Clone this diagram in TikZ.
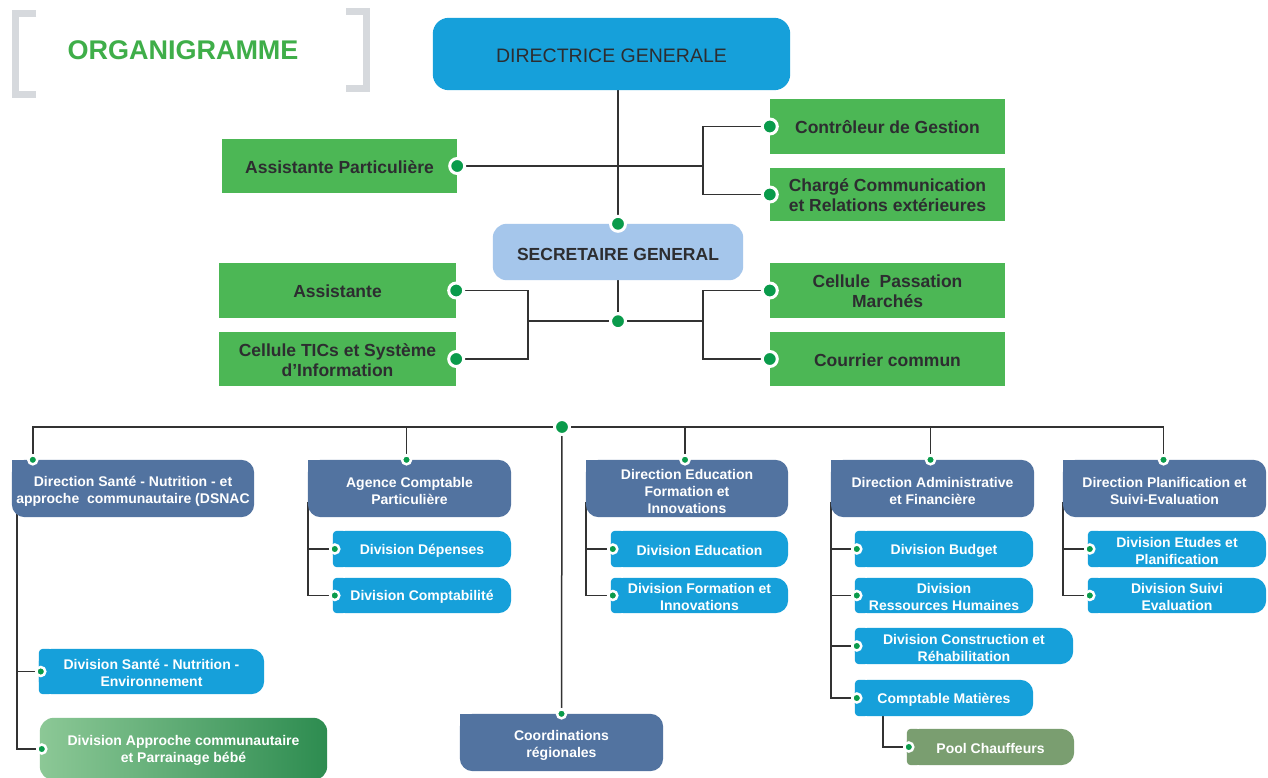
\documentclass[tikz,border=0pt]{standalone}
\usepackage{fontspec}
\setmainfont{Liberation Sans}
\usetikzlibrary{calc}
\pgfdeclarelayer{paper}
\pgfdeclarelayer{lines}
\pgfdeclarelayer{boxes}
\pgfsetlayers{paper,lines,boxes,main}
\definecolor{gfill}{RGB}{76,183,85}
\definecolor{dgblue}{RGB}{22,160,218}
\definecolor{divblue}{RGB}{22,160,218}
\definecolor{dkblue}{RGB}{82,115,160}
\definecolor{dotc}{RGB}{10,155,75}
\definecolor{lnc}{RGB}{50,50,50}
\definecolor{txtc}{RGB}{45,45,48}
\definecolor{titlec}{RGB}{63,174,73}
\definecolor{brk}{RGB}{214,217,221}
\definecolor{poolc}{RGB}{122,158,112}
\definecolor{sgside}{RGB}{165,198,235}
\definecolor{sgmidc}{RGB}{212,227,245}
\definecolor{apl}{RGB}{140,200,150}
\definecolor{apm}{RGB}{72,182,112}
\definecolor{apr}{RGB}{45,140,80}
\newcommand\ftitle{\fontsize{27}{30}\selectfont\bfseries}
\newcommand\fdg{\fontsize{19.5}{22}\selectfont}
\newcommand\fgreen{\fontsize{17.5}{20}\selectfont\bfseries}
\newcommand\fsmall{\fontsize{14}{17}\selectfont\bfseries}
\tikzset{
  ln/.style={draw=lnc, line width=1.5pt},
  sz/.style 2 args={minimum width=#1pt, minimum height=#2pt},
  gbox/.style={font=\fgreen, text=txtc, align=center, inner sep=0pt, text height=14.5pt},
  gtwo/.style={gbox, text height=34.5pt},
  wbox/.style={font=\fsmall, text=white, align=center, inner sep=0pt, text height=13.5pt},
  wtwo/.style={wbox, text height=30.5pt},
  dbox/.style={wbox, text height=33pt},
  dthree/.style={wbox, text height=50pt},
  bdot/.style={circle, fill=dotc, draw=white, line width=3pt, minimum size=15pt, inner sep=0pt},
  sdot/.style={circle, fill=dotc, draw=white, line width=2.5pt, minimum size=9pt, inner sep=0pt},
  bracketline/.style={draw=brk, line width=7pt},
}
\begin{document}
\begin{tikzpicture}[x=1pt,y=-1pt]
\useasboundingbox (0,0) rectangle (1268,778);
\begin{pgfonlayer}{paper}
\fill[white] (0,0) rectangle (1268,778);
\end{pgfonlayer}
% title
\draw[bracketline] (36,14) -- (15,14) -- (15,95) -- (36,95);
\draw[bracketline] (346,12) -- (366,12) -- (366,89) -- (346,89);
\node[font=\ftitle, text=titlec, inner sep=0pt] (title) at (183,50) {ORGANIGRAMME};
% top level
\node[font=\fdg, text=txtc, inner sep=0pt, text height=18pt, sz={357}{72}] (dg) at (611.5,54) {DIRECTRICE GENERALE};
\node[gbox, sz={235}{54}] (ap) at (339.5,166) {Assistante Particulière};
\node[gbox, sz={235}{55}] (cg) at (887.5,126.5) {Contrôleur de Gestion};
\node[gtwo, sz={235}{53}] (cc) at (887.5,194.5) {Chargé Communication\\et Relations extérieures};
\node[gbox, sz={250}{56}, text height=16.8pt] (sg) at (618,252) {SECRETAIRE GENERAL};
\node[gbox, sz={237}{55}] (as) at (337.5,290.5) {Assistante};
\node[gtwo, sz={237}{54}] (tic) at (337.5,359) {Cellule TICs et Système\\d’Information};
\node[gtwo, sz={235}{55}] (cp) at (887.5,290.5) {Cellule\ \ Passation\\Marchés};
\node[gbox, sz={235}{54}] (cm) at (887.5,359) {Courrier commun};
% directions
\node[dbox, sz={242}{57}] (dsnac) at (133,488.5) {Direction Santé - Nutrition - et\\approche\ \ communautaire (DSNAC};
\node[dbox, sz={203}{57}] (agence) at (409.5,488.5) {Agence Comptable\\Particulière};
\node[dthree, sz={202}{57}] (defi) at (687,488.5) {Direction Education\\Formation et\\Innovations};
\node[dbox, sz={203}{57}] (daf) at (932.5,488.5) {Direction Administrative\\et Financière};
\node[dbox, sz={203}{57}] (dpse) at (1164.5,488.5) {Direction Planification et\\Suivi-Evaluation};
\node[dbox, sz={203}{57}] (coord) at (561.5,742.5) {Coordinations\\régionales};
% divisions
\node[wbox, sz={178}{36}] (dep) at (422,549) {Division Dépenses};
\node[wbox, sz={178}{35}] (cpt) at (422,595.5) {Division Comptabilité};
\node[wbox, sz={177}{36}] (edu) at (699.5,549) {Division Education};
\node[wtwo, sz={177}{35}] (dfi) at (699.5,595.5) {Division Formation et\\Innovations};
\node[wbox, sz={178}{36}] (bud) at (944,549) {Division Budget};
\node[wtwo, sz={178}{35}] (rh) at (944,595.5) {Division\\Ressources Humaines};
\node[wtwo, sz={218}{36}] (con) at (964,646) {Division Construction et\\Réhabilitation};
\node[wbox, sz={178}{36}] (mat) at (944,698) {Comptable Matières};
\node[wbox, sz={167}{36}] (pool) at (990.5,747) {Pool Chauffeurs};
\node[wtwo, sz={178}{36}] (etu) at (1177,549) {Division Etudes et\\Planification};
\node[wtwo, sz={178}{35}] (sui) at (1177,595.5) {Division Suivi\\Evaluation};
\node[wtwo, sz={225}{45}] (sne) at (151.5,671.5) {Division Santé - Nutrition -\\Environnement};
\node[wtwo, sz={287}{62}] (apc) at (183.5,749) {Division Approche communautaire\\et Parrainage bébé};
% dots
\node[bdot] (apdot) at (ap.east) {};
\node[bdot] (cgdot) at (cg.west) {};
\node[bdot] (ccdot) at (cc.west) {};
\node[bdot] (sgtop) at (sg.north) {};
\node[bdot] (asdot) at (as.east) {};
\node[bdot] (ticdot) at (tic.east) {};
\node[bdot] (cpdot) at (cp.west) {};
\node[bdot] (cmdot) at (cm.west) {};
\node[bdot] (sgmid) at ($(sg.south)+(0,41)$) {};
\node[bdot] (hub) at (562,427) {};
\node[sdot] (d1dot) at ($(dsnac.north west)+(21,0)$) {};
\node[sdot] (d2dot) at ($(agence.north)+(-3,0)$) {};
\node[sdot] (d3dot) at ($(defi.north)+(-2,0)$) {};
\node[sdot] (d5dot) at ($(daf.north)+(-2,0)$) {};
\node[sdot] (d6dot) at ($(dpse.north)+(-1,0)$) {};
\node[sdot] (coorddot) at (coord.north) {};
\foreach \n in {dep,cpt,edu,dfi,bud,rh,con,mat,pool,etu,sui,sne,apc}
  \node[sdot] (\n dot) at ($(\n.west)+(2,0)$) {};
\coordinate (j1) at (703,166);
\coordinate (jl) at (528,321);
\coordinate (jr) at (703,321);
% connectors
\begin{pgfonlayer}{lines}
\draw[ln] (dg.south -| sgtop) -- (sgtop);
\draw[ln] (apdot) -- (j1);
\draw[ln] (cgdot) -| (ccdot -| j1) -- (ccdot);
\draw[ln] (sg.south -| sgmid) -- (sgmid);
\draw[ln] (jl) -- (jr);
\draw[ln] (asdot) -| (ticdot -| jl) -- (ticdot);
\draw[ln] (cpdot) -| (cmdot -| jr) -- (cmdot);
\draw[ln] (d1dot) |- (hub.center) -| (d6dot);
\foreach \d in {d2dot,d3dot,d5dot} \draw[ln] (\d) -- (\d |- hub);
\draw[ln] (hub) -- (coorddot);
\draw[ln] ($(dsnac.south west)+(5,-10)$) |- (apcdot);
\draw[ln] (snedot -| 17,0) -- (snedot);
\draw[ln] ($(agence.south west)+(0,-15)$) |- (cptdot);
\draw[ln] (depdot -| agence.west) -- (depdot);
\draw[ln] ($(defi.south west)+(0,-15)$) |- (dfidot);
\draw[ln] (edudot -| defi.west) -- (edudot);
\draw[ln] ($(daf.south west)+(0,-15)$) |- (matdot);
\foreach \d in {buddot,rhdot,condot} \draw[ln] (\d -| daf.west) -- (\d);
\draw[ln] ($(mat.south west)+(28,0)$) |- (pooldot);
\draw[ln] ($(dpse.south west)+(0,-15)$) |- (suidot);
\draw[ln] (etudot -| dpse.west) -- (etudot);
\end{pgfonlayer}
% box fills
\begin{pgfonlayer}{boxes}
\foreach \n in {ap,cg,cc,as,tic,cp,cm} \fill[gfill] (\n.north west) rectangle (\n.south east);
\fill[dgblue, rounded corners=16pt] (dg.north west) rectangle (dg.south east);
\shade[left color=sgside, middle color=sgmidc, right color=sgside, rounded corners=14pt] (sg.north west) rectangle (sg.south east);
\foreach \n in {dsnac,agence,defi,daf,dpse,coord} {
  \fill[dkblue, rounded corners=13pt] (\n.north west) rectangle (\n.south east);
  \fill[dkblue] (\n.north west) rectangle ++(13,13);
}
\foreach \n/\c in {dep/divblue,cpt/divblue,edu/divblue,dfi/divblue,bud/divblue,rh/divblue,con/divblue,mat/divblue,etu/divblue,sui/divblue,sne/divblue,pool/poolc} {
  \fill[\c, rounded corners=13pt] (\n.north west) rectangle (\n.south east);
  \fill[\c, rounded corners=4pt] (\n.north west) rectangle ($(\n.south west)+(14,0)$);
}
\shade[left color=apl, middle color=apm, right color=apr, rounded corners=14pt] (apc.north west) rectangle (apc.south east);
\end{pgfonlayer}
\end{tikzpicture}
\end{document}
